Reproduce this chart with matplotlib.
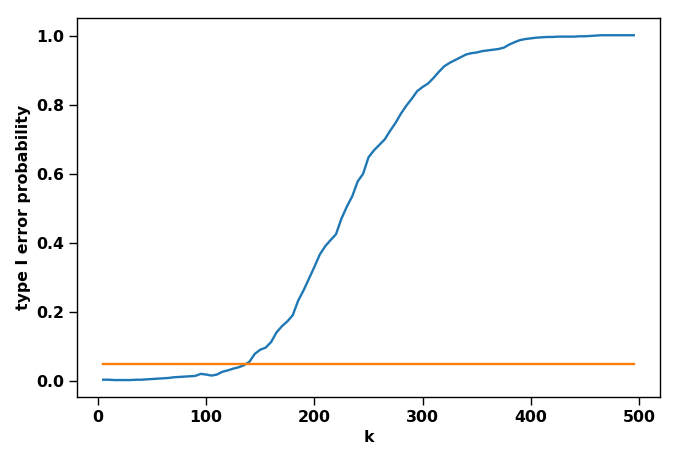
import matplotlib
matplotlib.use("Agg")
import matplotlib.pyplot as plt
import numpy as np

k = list(range(5, 500, 5))
type1_error = [
    0.003, 0.003, 0.002, 0.002, 0.002, 0.002, 0.003, 0.003, 0.004, 0.005,
    0.006, 0.007, 0.008, 0.010, 0.011, 0.012, 0.013, 0.014, 0.020, 0.018,
    0.015, 0.018, 0.026, 0.030, 0.035, 0.039, 0.045, 0.055, 0.078, 0.090,
    0.096, 0.112, 0.140, 0.158, 0.172, 0.190, 0.232, 0.262, 0.296, 0.330,
    0.366, 0.390, 0.408, 0.425, 0.470, 0.505, 0.535, 0.578, 0.600, 0.648,
    0.668, 0.684, 0.700, 0.725, 0.748, 0.775, 0.798, 0.818, 0.840, 0.852,
    0.862, 0.878, 0.896, 0.912, 0.922, 0.930, 0.938, 0.946, 0.950, 0.952,
    0.956, 0.958, 0.960, 0.962, 0.966, 0.975, 0.982, 0.988, 0.991, 0.993,
    0.995, 0.996, 0.997, 0.997, 0.998, 0.998, 0.998, 0.998, 0.999, 0.999,
    1.000, 1.001, 1.002, 1.002, 1.002, 1.002, 1.002, 1.002, 1.002,
]
alpha = 0.05
alpha_line = [alpha] * len(k)

plt.rcParams['font.family'] = ['DejaVu Sans']
plt.rcParams['font.weight'] = 'bold'
plt.rcParams['axes.labelweight'] = 'bold'

fig = plt.figure(figsize=(6.77, 4.63), dpi=100)
ax = fig.add_axes([76.7/677, 1-397.3/463, (660.3-76.7)/677, (397.3-18)/463])
ax.plot(k, type1_error, color='#1f77b4', linewidth=1.7)
ax.plot(k, alpha_line, color='#ff7f0e', linewidth=1.7)
ax.set_xlabel('k', fontsize=11.3)
ax.set_ylabel('type I error probability', fontsize=11.3)
ax.set_xticks([0, 100, 200, 300, 400, 500])
ax.set_yticks([0.0, 0.2, 0.4, 0.6, 0.8, 1.0])
ax.tick_params(labelsize=11.3, length=5.5, width=1.0)
for s in ax.spines.values():
    s.set_linewidth(1.0)
fig.savefig('out.png', dpi=100)
